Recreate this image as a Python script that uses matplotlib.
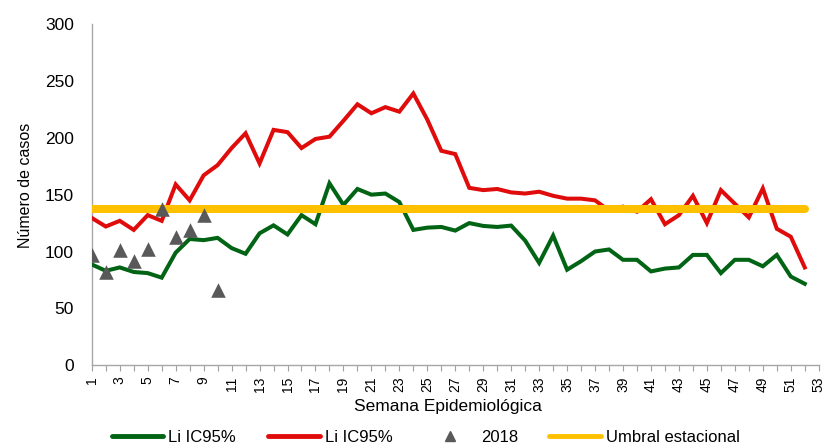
import matplotlib
matplotlib.use("Agg")
import matplotlib.pyplot as plt
from matplotlib.lines import Line2D

plt.rcParams['font.family'] = ['Liberation Sans', 'DejaVu Sans']

weeks = list(range(1, 53))
li_green = [88.6, 83, 86, 82, 81, 77, 99, 111, 110, 112, 103, 98, 116, 123, 115, 132, 124, 160, 141, 155,
            150, 151, 143.5, 119, 121, 121.6, 118.4, 125, 122.5, 121.6, 122.8, 109.6, 90, 114, 84, 91.5,
            100, 101.8, 92.7, 92.7, 82.5, 85, 86, 97, 97, 81, 92.7, 92.7, 87, 97, 78, 71.6]
ls_red = [129.5, 122, 127, 119, 132, 127, 159, 145, 167, 176, 191, 204, 177.5, 207, 205, 191, 199, 201, 215, 229.5,
          221.6, 227, 223, 239, 216, 188.6, 185.7, 156, 154, 155, 152, 151, 152.6, 149, 146.5, 146.5,
          145, 136, 139.5, 135, 146, 124, 132, 149, 125, 154, 142, 130, 155.5, 120, 113, 86]
weeks_2018 = [1, 2, 3, 4, 5, 6, 7, 8, 9, 10]
cases_2018 = [97, 82, 101, 92, 102, 137, 112.5, 119, 132, 66]
umbral = [137] * 52

fig = plt.figure(figsize=(8.27, 4.47), dpi=100)
ax = fig.add_axes([0.111, 0.183, 0.879, 0.763])

ax.plot(weeks, li_green, color='#006414', lw=2.9, solid_joinstyle='miter', zorder=3)
ax.plot(weeks, ls_red, color='#e00c0c', lw=2.9, solid_joinstyle='miter', zorder=3)
ax.plot(weeks, umbral, color='#ffc000', lw=5.8, solid_capstyle='round', zorder=4)
ax.scatter(weeks_2018, cases_2018, marker='^', s=110, color='#595959', zorder=5, linewidths=0)

ax.set_xlim(1, 53)
ax.set_ylim(0, 300)
ax.set_xticks(range(1, 54))
ax.set_xticklabels([str(w) if w % 2 == 1 else '' for w in range(1, 54)], rotation=90, fontsize=10)
ax.set_yticks(range(0, 301, 50))
ax.tick_params(axis='y', length=0, labelsize=12.5, pad=13)
ax.tick_params(axis='x', length=4, direction='out', color='#a0a0a0', pad=4)
for s in ['top', 'right']:
    ax.spines[s].set_visible(False)
for s in ['left', 'bottom']:
    ax.spines[s].set_color('#a6a6a6')
    ax.spines[s].set_linewidth(1.0)

ax.set_xlabel('Semana Epidemiológica', fontsize=12.5)
ax.xaxis.set_label_coords(0.49, -0.10)
ax.set_ylabel('Número de casos', fontsize=11.5)
ax.yaxis.set_label_coords(-0.081, 0.528)

handles = [
    Line2D([], [], color='#006414', lw=3.5, solid_capstyle='round'),
    Line2D([], [], color='#e00c0c', lw=3.5, solid_capstyle='round'),
    Line2D([], [], color='#595959', marker='^', linestyle='none', markersize=7),
    Line2D([], [], color='#ffc000', lw=3.5, solid_capstyle='round'),
]
labels = ['Li IC95%', 'Li IC95%', '2018', 'Umbral estacional']
fig.legend(handles, labels, loc='center', bbox_to_anchor=(0.515, 0.022), ncol=4, frameon=False,
           fontsize=12, handlelength=3.1, handletextpad=0.3, columnspacing=1.9)

fig.savefig('out.png', dpi=100)
